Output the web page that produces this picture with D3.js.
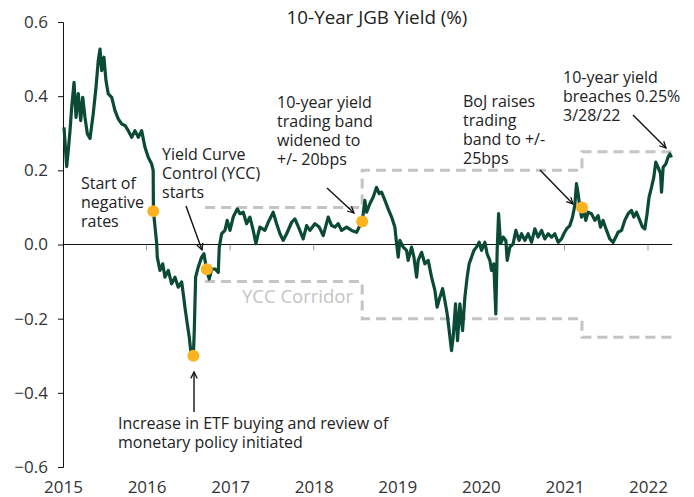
<!DOCTYPE html>
<head>
    <meta charset="utf-8">
    <script src="https://d3js.org/d3.v7.min.js"></script>
    <style>
        body {
            margin: 0;
            font-family: "Open Sans", "Noto Sans", Arial, sans-serif;
            color: #222;
            background: #fff;
        }
        .tick text {
            font-size: 17px;
            font-family: "Open Sans", "Noto Sans", Arial, sans-serif;
            fill: #333;
        }
        .note {
            font-size: 16px;
            fill: #222;
        }
    </style>
</head>

<body>
<div id="vis"></div>

<script>
    // ---- data (decimal year, yield %) ----
    var dates = [
        2015.012, 2015.044, 2015.063, 2015.084, 2015.104, 2015.132, 2015.156, 2015.183, 2015.212, 2015.236,
        2015.263, 2015.291, 2015.323, 2015.362, 2015.395, 2015.422, 2015.443, 2015.463, 2015.490, 2015.514,
        2015.542, 2015.583, 2015.622, 2015.661, 2015.702, 2015.742, 2015.781, 2015.822, 2015.861, 2015.901,
        2015.941, 2015.981, 2016.020, 2016.061, 2016.079, 2016.082, 2016.121, 2016.128, 2016.160, 2016.193,
        2016.220, 2016.260, 2016.300, 2016.340, 2016.379, 2016.420, 2016.439, 2016.459, 2016.487, 2016.511,
        2016.528, 2016.559, 2016.571, 2016.587, 2016.618, 2016.659, 2016.687, 2016.719, 2016.750, 2016.779,
        2016.818, 2016.858, 2016.870, 2016.898, 2016.938, 2016.965, 2016.998, 2017.037, 2017.085, 2017.117,
        2017.157, 2017.197, 2017.237, 2017.276, 2017.309, 2017.336, 2017.356, 2017.416, 2017.456, 2017.515,
        2017.556, 2017.596, 2017.634, 2017.676, 2017.736, 2017.775, 2017.827, 2017.874, 2017.915, 2017.955,
        2018.014, 2018.066, 2018.114, 2018.173, 2018.214, 2018.254, 2018.293, 2018.334, 2018.394, 2018.453,
        2018.513, 2018.553, 2018.578, 2018.592, 2018.612, 2018.633, 2018.672, 2018.712, 2018.752, 2018.783,
        2018.812, 2018.852, 2018.891, 2018.932, 2018.971, 2018.992, 2019.011, 2019.031, 2019.071, 2019.111,
        2019.130, 2019.171, 2019.199, 2019.231, 2019.250, 2019.291, 2019.330, 2019.370, 2019.410, 2019.450,
        2019.477, 2019.510, 2019.542, 2019.569, 2019.597, 2019.621, 2019.649, 2019.669, 2019.697, 2019.721,
        2019.749, 2019.781, 2019.809, 2019.836, 2019.860, 2019.889, 2019.916, 2019.949, 2019.980, 2020.008,
        2020.048, 2020.075, 2020.108, 2020.128, 2020.155, 2020.179, 2020.195, 2020.212, 2020.236, 2020.267,
        2020.299, 2020.315, 2020.347, 2020.386, 2020.419, 2020.458, 2020.487, 2020.526, 2020.566, 2020.606,
        2020.646, 2020.685, 2020.726, 2020.766, 2020.805, 2020.846, 2020.885, 2020.925, 2020.965, 2020.993,
        2021.025, 2021.065, 2021.097, 2021.124, 2021.144, 2021.164, 2021.184, 2021.204, 2021.224, 2021.256,
        2021.283, 2021.324, 2021.364, 2021.403, 2021.432, 2021.463, 2021.504, 2021.543, 2021.583, 2021.615,
        2021.642, 2021.683, 2021.722, 2021.762, 2021.802, 2021.830, 2021.862, 2021.902, 2021.934, 2021.962,
        2021.989, 2022.013, 2022.042, 2022.069, 2022.093, 2022.121, 2022.150, 2022.162, 2022.181, 2022.213,
        2022.240, 2022.261, 2022.281
    ];
    var yields = [
        0.316, 0.210, 0.253, 0.307, 0.370, 0.437, 0.343, 0.407, 0.334, 0.397,
        0.343, 0.299, 0.286, 0.353, 0.424, 0.496, 0.527, 0.469, 0.505, 0.442,
        0.406, 0.397, 0.361, 0.339, 0.325, 0.321, 0.307, 0.289, 0.307, 0.289,
        0.307, 0.262, 0.235, 0.217, 0.200, 0.090, 0.003, -0.034, -0.070, -0.052,
        -0.088, -0.070, -0.106, -0.088, -0.115, -0.101, -0.133, -0.169, -0.214, -0.250,
        -0.286, -0.304, -0.232, -0.088, -0.061, -0.034, -0.025, -0.070, -0.093, -0.066,
        -0.066, -0.075, -0.007, 0.029, 0.038, 0.065, 0.038, 0.074, 0.096, 0.083,
        0.087, 0.056, 0.074, 0.038, 0.002, 0.029, 0.047, 0.038, 0.060, 0.087,
        0.056, 0.029, 0.011, 0.029, 0.060, 0.069, 0.042, 0.015, 0.051, 0.038,
        0.056, 0.047, 0.024, 0.074, 0.051, 0.047, 0.056, 0.038, 0.047, 0.038,
        0.033, 0.051, 0.062, 0.083, 0.119, 0.087, 0.110, 0.128, 0.154, 0.137,
        0.141, 0.119, 0.096, 0.074, 0.047, 0.002, -0.034, 0.011, -0.007, -0.016,
        -0.043, -0.007, -0.034, -0.088, -0.043, -0.021, -0.052, -0.043, -0.088, -0.124,
        -0.169, -0.142, -0.119, -0.151, -0.187, -0.232, -0.286, -0.250, -0.160, -0.259,
        -0.160, -0.232, -0.142, -0.088, -0.052, -0.034, -0.016, -0.007, 0.006, -0.016,
        0.006, -0.025, -0.043, -0.070, -0.052, -0.187, -0.016, 0.083, 0.002, 0.020,
        0.011, -0.043, -0.007, 0.002, 0.038, 0.011, 0.029, 0.011, 0.029, 0.006,
        0.042, 0.020, 0.038, 0.015, 0.029, 0.020, 0.029, 0.006, 0.015, 0.029,
        0.042, 0.051, 0.074, 0.105, 0.164, 0.137, 0.101, 0.074, 0.096, 0.065,
        0.087, 0.083, 0.065, 0.078, 0.047, 0.065, 0.038, 0.015, 0.006, 0.020,
        0.033, 0.038, 0.065, 0.083, 0.092, 0.074, 0.087, 0.065, 0.047, 0.042,
        0.083, 0.128, 0.154, 0.181, 0.222, 0.208, 0.191, 0.141, 0.208, 0.217,
        0.235, 0.244, 0.235
    ];

    // YCC corridor (band edges)
    var bandDates = [2016.70, 2018.58, 2021.21, 2022.29];
    var bandUpper = [0.10, 0.20, 0.25, 0.25];
    var bandLower = [-0.10, -0.20, -0.25, -0.25];

    // highlighted events
    var eventDates = [2016.08, 2016.56, 2016.72, 2018.58, 2021.21];
    var eventYields = [0.09, -0.30, -0.067, 0.062, 0.10];

    var yearTicks = [2015, 2016, 2017, 2018, 2019, 2020, 2021, 2022];
    var yTicks = [-0.6, -0.4, -0.2, 0.0, 0.2, 0.4, 0.6];

    var title = "10-Year JGB Yield (%)";

    var width = 694, height = 497;

    var x = d3.scaleLinear().domain([2015, 2022]).range([63, 648]);
    var y = d3.scaleLinear().domain([-0.6, 0.6]).range([467, 22]);

    var svg = d3.select("#vis").append("svg")
        .attr("width", width)
        .attr("height", height);

    svg.append("defs").append("marker")
        .attr("id", "arrow")
        .attr("viewBox", "0 0 10 10")
        .attr("refX", 9).attr("refY", 5)
        .attr("markerWidth", 8).attr("markerHeight", 8)
        .attr("markerUnits", "userSpaceOnUse")
        .attr("orient", "auto")
        .append("path")
        .attr("d", "M1,1 L9,5 L1,9")
        .attr("fill", "none")
        .attr("stroke", "#111")
        .attr("stroke-width", 1.6);

    // title
    svg.append("text")
        .attr("x", 377).attr("y", 24)
        .attr("text-anchor", "middle")
        .style("font-size", "18.8px")
        .style("fill", "#222")
        .text(title);

    // y axis
    var yAxis = svg.append("g")
        .attr("transform", "translate(" + x(2015) + ",0)")
        .call(d3.axisLeft(y).tickValues(yTicks).tickSize(5).tickPadding(10)
            .tickFormat(d3.format(".1f")));
    yAxis.selectAll("path, line").attr("stroke", "#111");

    // zero line with year ticks
    svg.append("line")
        .attr("x1", x(2015)).attr("x2", x(bandDates[bandDates.length - 1]))
        .attr("y1", y(0)).attr("y2", y(0))
        .attr("stroke", "#111").attr("stroke-width", 1.2);
    svg.selectAll(".ytick")
        .data(yearTicks.slice(1))
        .enter().append("line")
        .attr("x1", function(d) { return x(d); })
        .attr("x2", function(d) { return x(d); })
        .attr("y1", y(0)).attr("y2", y(0) + 6)
        .attr("stroke", "#999").attr("stroke-width", 1);

    // year labels at the bottom
    var xAxis = svg.append("g")
        .attr("transform", "translate(0," + y(-0.6) + ")")
        .call(d3.axisBottom(x).tickValues(yearTicks).tickSize(0).tickPadding(14)
            .tickFormat(d3.format("d")));
    xAxis.select(".domain").remove();

    // corridor
    var step = d3.line()
        .x(function(d) { return x(d[0]); })
        .y(function(d) { return y(d[1]); })
        .curve(d3.curveStepAfter);

    [bandUpper, bandLower].forEach(function(band) {
        svg.append("path")
            .datum(bandDates.map(function(d, i) { return [d, band[i]]; }))
            .attr("d", step)
            .attr("fill", "none")
            .attr("stroke", "#c4c4c4")
            .attr("stroke-width", 3)
            .attr("stroke-dasharray", "10,6");
    });

    svg.append("text")
        .attr("x", 242).attr("y", 303)
        .style("font-size", "18.5px")
        .style("fill", "#c4c4c4")
        .text("YCC Corridor");

    // yield line
    var line = d3.line()
        .x(function(d) { return x(d[0]); })
        .y(function(d) { return y(d[1]); });

    svg.append("path")
        .datum(dates.map(function(d, i) { return [d, yields[i]]; }))
        .attr("d", line)
        .attr("fill", "none")
        .attr("stroke", "#0b4a37")
        .attr("stroke-width", 3.2)
        .attr("stroke-linejoin", "round");

    // event dots
    svg.selectAll(".event")
        .data(eventDates)
        .enter().append("circle")
        .attr("class", "event")
        .attr("cx", function(d) { return x(d); })
        .attr("cy", function(d, i) { return y(eventYields[i]); })
        .attr("r", 6)
        .attr("fill", "#fbb321");

    // annotations: text lines, left x, first baseline
    var notes = [
        {lines: ["Start of", "negative", "rates"], x: 81, y: 189},
        {lines: ["Yield Curve", "Control (YCC)", "starts"], x: 162, y: 160},
        {lines: ["Increase in ETF buying and review of", "monetary policy initiated"], x: 118, y: 429},
        {lines: ["10-year yield", "trading band", "widened to", "+/- 20bps"], x: 277, y: 108},
        {lines: ["BoJ raises", "trading", "band to +/-", "25bps"], x: 463, y: 107},
        {lines: ["10-year yield", "breaches 0.25%", "3/28/22"], x: 563, y: 83}
    ];
    notes.forEach(function(n) {
        n.lines.forEach(function(l, i) {
            svg.append("text").attr("class", "note")
                .attr("x", n.x).attr("y", n.y + i * 19)
                .text(l);
        });
    });

    var arrows = [
        [186, 206, 202, 250],
        [194, 412, 194, 372],
        [327, 188, 354, 213],
        [540, 170, 573, 204],
        [633, 115, 666, 148]
    ];
    svg.selectAll(".arrow")
        .data(arrows)
        .enter().append("line")
        .attr("x1", function(d) { return d[0]; })
        .attr("y1", function(d) { return d[1]; })
        .attr("x2", function(d) { return d[2]; })
        .attr("y2", function(d) { return d[3]; })
        .attr("stroke", "#111")
        .attr("stroke-width", 1.4)
        .attr("marker-end", "url(#arrow)");
</script>
</body>
